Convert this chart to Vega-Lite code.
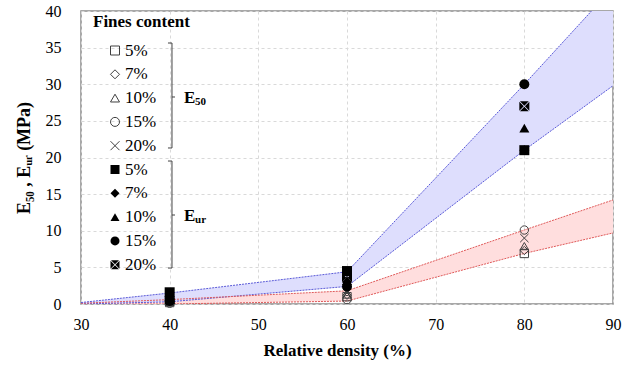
{
  "$schema": "https://vega.github.io/schema/vega-lite/v6.json",
  "width": 532,
  "height": 293,
  "autosize": "none",
  "padding": {"left": 81, "top": 11, "right": 22, "bottom": 65},
  "background": "white",
  "datasets": {
    "bands": [
      {"density": 30, "modulus": "E50", "lower": 0.0, "upper": 0.1},
      {"density": 40, "modulus": "E50", "lower": 0.0, "upper": 0.6},
      {"density": 60, "modulus": "E50", "lower": 0.4, "upper": 1.8},
      {"density": 80, "modulus": "E50", "lower": 6.9, "upper": 10.1},
      {"density": 90, "modulus": "E50", "lower": 9.7, "upper": 14.2},
      {"density": 30, "modulus": "Eur", "lower": 0.0, "upper": 0.2},
      {"density": 40, "modulus": "Eur", "lower": 0.3, "upper": 1.5},
      {"density": 60, "modulus": "Eur", "lower": 2.4, "upper": 4.4},
      {"density": 80, "modulus": "Eur", "lower": 21.0, "upper": 30.0},
      {"density": 90, "modulus": "Eur", "lower": 29.8, "upper": 43.2}
    ],
    "points": [
      {"density": 40, "fines": "5%", "modulus": "E50", "value": 0.2},
      {"density": 40, "fines": "7%", "modulus": "E50", "value": 0.3},
      {"density": 40, "fines": "10%", "modulus": "E50", "value": 0.3},
      {"density": 40, "fines": "15%", "modulus": "E50", "value": 0.1},
      {"density": 40, "fines": "20%", "modulus": "E50", "value": 0.4},
      {"density": 60, "fines": "5%", "modulus": "E50", "value": 1.0},
      {"density": 60, "fines": "7%", "modulus": "E50", "value": 1.2},
      {"density": 60, "fines": "10%", "modulus": "E50", "value": 1.3},
      {"density": 60, "fines": "15%", "modulus": "E50", "value": 0.6},
      {"density": 60, "fines": "20%", "modulus": "E50", "value": 1.5},
      {"density": 80, "fines": "5%", "modulus": "E50", "value": 6.9},
      {"density": 80, "fines": "7%", "modulus": "E50", "value": 7.3},
      {"density": 80, "fines": "10%", "modulus": "E50", "value": 7.9},
      {"density": 80, "fines": "15%", "modulus": "E50", "value": 10.1},
      {"density": 80, "fines": "20%", "modulus": "E50", "value": 9.0},
      {"density": 40, "fines": "5%", "modulus": "Eur", "value": 1.6},
      {"density": 40, "fines": "7%", "modulus": "Eur", "value": 0.7},
      {"density": 40, "fines": "10%", "modulus": "Eur", "value": 0.6},
      {"density": 40, "fines": "15%", "modulus": "Eur", "value": 0.4},
      {"density": 40, "fines": "20%", "modulus": "Eur", "value": 0.5},
      {"density": 60, "fines": "5%", "modulus": "Eur", "value": 4.5},
      {"density": 60, "fines": "7%", "modulus": "Eur", "value": 3.0},
      {"density": 60, "fines": "10%", "modulus": "Eur", "value": 3.2},
      {"density": 60, "fines": "15%", "modulus": "Eur", "value": 2.4},
      {"density": 60, "fines": "20%", "modulus": "Eur", "value": 3.6},
      {"density": 80, "fines": "5%", "modulus": "Eur", "value": 21.0},
      {"density": 80, "fines": "7%", "modulus": "Eur", "value": 21.0},
      {"density": 80, "fines": "10%", "modulus": "Eur", "value": 24.0},
      {"density": 80, "fines": "15%", "modulus": "Eur", "value": 30.0},
      {"density": 80, "fines": "20%", "modulus": "Eur", "value": 27.0}
    ]
  },
  "layer": [
    {
      "data": {"name": "bands"},
      "mark": {"type": "area", "clip": true, "opacity": 1},
      "encoding": {
        "x": {"field": "density", "type": "quantitative", "scale": {"domain": [30, 90], "nice": false},
              "axis": {"tickCount": 6, "title": "Relative density (%)",
                       "titlePadding": 10, "labelPadding": 12, "titleX": 256,
                       "labelFont": "Liberation Serif", "labelFontSize": 16, "labelOverlap": false, "labelBound": false, "labelFlush": false,
                       "titleFont": "Liberation Serif", "titleFontSize": 17}},
        "y": {"field": "lower", "type": "quantitative", "scale": {"domain": [0, 40], "nice": false},
              "axis": {"tickCount": 8, "title": "E₅₀ ,  Eᵤᵣ (MPa)",
                       "titlePadding": 12, "labelPadding": 20,
                       "labelFont": "Liberation Serif", "labelFontSize": 16, "labelOverlap": false, "labelBound": false, "labelFlush": false,
                       "titleFont": "Liberation Serif", "titleFontSize": 18}},
        "y2": {"field": "upper"},
        "fill": {"field": "modulus", "type": "nominal", "legend": null,
                 "scale": {"domain": ["E50", "Eur"], "range": ["#ffdede", "#dedefd"]}}
      }
    },
    {
      "data": {"name": "bands"},
      "mark": {"type": "line", "clip": true, "strokeWidth": 1, "strokeDash": [2, 1]},
      "encoding": {
        "x": {"field": "density", "type": "quantitative"},
        "y": {"field": "lower", "type": "quantitative"},
        "stroke": {"field": "modulus", "type": "nominal", "legend": null,
                   "scale": {"domain": ["E50", "Eur"], "range": ["#e05a5a", "#5a5ad8"]}}
      }
    },
    {
      "data": {"name": "bands"},
      "mark": {"type": "line", "clip": true, "strokeWidth": 1, "strokeDash": [2, 1]},
      "encoding": {
        "x": {"field": "density", "type": "quantitative"},
        "y": {"field": "upper", "type": "quantitative"},
        "stroke": {"field": "modulus", "type": "nominal", "legend": null}
      }
    },
    {
      "data": {"name": "points"},
      "transform": [{"filter": "datum.modulus === 'E50'"}],
      "mark": {"type": "point", "filled": false, "color": "#404040", "strokeWidth": 1, "size": 70, "opacity": 1},
      "encoding": {
        "x": {"field": "density", "type": "quantitative"},
        "y": {"field": "value", "type": "quantitative"},
        "shape": {"field": "fines", "type": "nominal",
                  "scale": {"domain": ["5%", "7%", "10%", "15%", "20%"],
                            "range": ["square", "diamond", "triangle-up", "circle", "M-1,-1L1,1M-1,1L1,-1"]},
                  "legend": {"title": "Fines content", "orient": "none", "legendX": 12, "legendY": 3,
                             "titlePadding": 11, "symbolStrokeColor": "#404040", "symbolStrokeWidth": 1}}
      }
    },
    {
      "data": {"name": "points"},
      "transform": [{"filter": "datum.modulus === 'Eur'"}],
      "mark": {"type": "point", "filled": true, "color": "#000000", "strokeWidth": 0, "size": 100, "opacity": 1},
      "encoding": {
        "x": {"field": "density", "type": "quantitative"},
        "y": {"field": "value", "type": "quantitative"},
        "shape": {"field": "fines", "type": "nominal",
                  "scale": {"domain": ["5%", "7%", "10%", "15%", "20%"],
                            "range": ["square", "diamond", "triangle-up", "circle",
                                      "M-0.88,-1L0.88,-1L0,-0.12ZM1,-0.88L1,0.88L0.12,0ZM0.88,1L-0.88,1L0,0.12ZM-1,0.88L-1,-0.88L-0.12,0Z"]},
                  "legend": {"title": null, "orient": "none", "legendX": 12, "legendY": 150,
                             "symbolFillColor": "#000000", "symbolStrokeWidth": 0}}
      }
    },
    {"data": {"values": [{}]}, "mark": {"type": "rule", "color": "#404040", "strokeWidth": 1}, "encoding": {"x": {"datum": 40.26}, "y": {"datum": 35.63}, "y2": {"datum": 21.3}}},
    {"data": {"values": [{}]}, "mark": {"type": "rule", "color": "#404040", "strokeWidth": 1}, "encoding": {"x": {"datum": 39.81}, "x2": {"datum": 40.26}, "y": {"datum": 35.63}}},
    {"data": {"values": [{}]}, "mark": {"type": "rule", "color": "#404040", "strokeWidth": 1}, "encoding": {"x": {"datum": 39.81}, "x2": {"datum": 40.26}, "y": {"datum": 21.3}}},
    {"data": {"values": [{}]}, "mark": {"type": "rule", "color": "#404040", "strokeWidth": 1}, "encoding": {"x": {"datum": 40.26}, "x2": {"datum": 40.6}, "y": {"datum": 28.26}}},
    {"data": {"values": [{}]}, "mark": {"type": "rule", "color": "#404040", "strokeWidth": 1}, "encoding": {"x": {"datum": 40.26}, "y": {"datum": 19.52}, "y2": {"datum": 4.91}}},
    {"data": {"values": [{}]}, "mark": {"type": "rule", "color": "#404040", "strokeWidth": 1}, "encoding": {"x": {"datum": 39.81}, "x2": {"datum": 40.26}, "y": {"datum": 19.52}}},
    {"data": {"values": [{}]}, "mark": {"type": "rule", "color": "#404040", "strokeWidth": 1}, "encoding": {"x": {"datum": 39.81}, "x2": {"datum": 40.26}, "y": {"datum": 4.91}}},
    {"data": {"values": [{}]}, "mark": {"type": "rule", "color": "#404040", "strokeWidth": 1}, "encoding": {"x": {"datum": 40.26}, "x2": {"datum": 40.6}, "y": {"datum": 12.15}}},
    {"data": {"values": [{}]}, "mark": {"type": "text", "text": "E", "align": "left", "baseline": "middle", "fontSize": 17, "fontWeight": "bold", "color": "#000000"},
     "encoding": {"x": {"datum": 41.62}, "y": {"datum": 28.1}}},
    {"data": {"values": [{}]}, "mark": {"type": "text", "text": "50", "align": "left", "baseline": "middle", "fontSize": 11, "fontWeight": "bold", "dx": 11, "dy": 4, "color": "#000000"},
     "encoding": {"x": {"datum": 41.62}, "y": {"datum": 28.1}}},
    {"data": {"values": [{}]}, "mark": {"type": "text", "text": "E", "align": "left", "baseline": "middle", "fontSize": 17, "fontWeight": "bold", "color": "#000000"},
     "encoding": {"x": {"datum": 41.62}, "y": {"datum": 12.0}}},
    {"data": {"values": [{}]}, "mark": {"type": "text", "text": "ur", "align": "left", "baseline": "middle", "fontSize": 11, "fontWeight": "bold", "dx": 11, "dy": 4, "color": "#000000"},
     "encoding": {"x": {"datum": 41.62}, "y": {"datum": 12.0}}}
  ],
  "resolve": {"scale": {"shape": "independent"}},
  "config": {
    "font": "Liberation Serif",
    "view": {"stroke": "#8c8c8c", "strokeWidth": 1.5},
    "axis": {
      "grid": true, "gridColor": "#d9d9d9", "gridDash": [3, 3], "gridWidth": 1,
      "domain": false, "ticks": false,
      "labelFont": "Liberation Serif", "labelFontSize": 16, "labelColor": "#000000",
      "titleFont": "Liberation Serif", "titleFontSize": 17, "titleFontWeight": "bold", "titleColor": "#000000"
    },
    "legend": {
      "padding": 0,
      "titleFont": "Liberation Serif", "titleFontSize": 17, "titleFontWeight": "bold", "titleColor": "#000000",
      "labelFont": "Liberation Serif", "labelFontSize": 17, "labelColor": "#000000",
      "symbolSize": 81, "symbolOffset": 13.5, "labelOffset": 1.5, "rowPadding": 5.8
    },
    "text": {"font": "Liberation Serif"}
  }
}
